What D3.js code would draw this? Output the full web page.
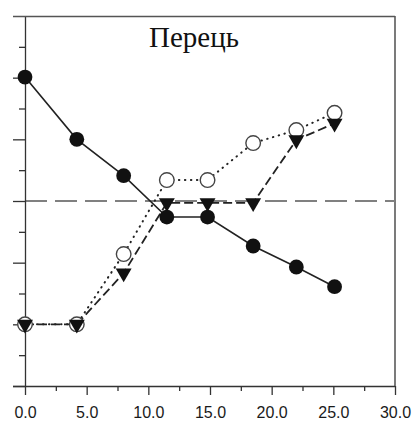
<!DOCTYPE html>
<html>
<head>
<meta charset="utf-8">
<script src="https://cdn.jsdelivr.net/npm/d3@7"></script>
<style>
  body { margin: 0; background: #fff; }
</style>
</head>
<body>
<div id="chart"></div>
<script>
// days of storage (x) and the three series (y)
let days      = [0, 4.2, 8, 11.5, 14.8, 18.5, 22, 25.1];
let filled    = [2.01, 1.0, 0.41, -0.26, -0.26, -0.73, -1.07, -1.39];
let hollow    = [-2.0, -2.0, -0.86, 0.34, 0.34, 0.94, 1.15, 1.43];
let triangles = [-2.0, -2.0, -1.17, -0.03, -0.03, -0.03, 0.99, 1.26];
let xMajor = [0, 5, 10, 15, 20, 25, 30];
let xMinor = [2.5, 7.5, 12.5, 17.5, 22.5, 27.5];
let yMajor = [-3, -2, -1, 0, 1, 2, 3];
let yMinor = [-2.5, -1.5, -0.5, 0.5, 1.5, 2.5];
let title = "Перець";

let larg = 416;
let alt = 423;

let svg = d3.select("#chart")
            .append("svg")
            .attr("width", larg)
            .attr("height", alt);

let x = d3.scaleLinear().domain([0, 30]).range([25, 395]);
let y = d3.scaleLinear().domain([-3, 3]).range([386, 16]);

// frame: right side
svg.append("line")
   .attr("x1", x(30)).attr("x2", x(30))
   .attr("y1", y(3)).attr("y2", y(-3))
   .attr("stroke", "#333").attr("stroke-width", 1.3);

// zero reference line
svg.append("line")
   .attr("x1", x(0)).attr("x2", x(30))
   .attr("y1", y(0)).attr("y2", y(0))
   .attr("stroke", "#808080")
   .attr("stroke-width", 1.8)
   .attr("stroke-dasharray", "22,8");

// minor ticks
svg.append("g")
   .attr("transform", `translate(0,${y(-3)})`)
   .call(d3.axisBottom(x).tickValues(xMinor).tickSize(5).tickFormat(""))
   .call(g => g.select(".domain").remove())
   .call(g => g.selectAll("line").attr("stroke", "#333").attr("stroke-width", 1.3));

svg.append("g")
   .attr("transform", `translate(${x(0)},0)`)
   .call(d3.axisLeft(y).tickValues(yMinor).tickSize(6).tickFormat(""))
   .call(g => g.select(".domain").remove())
   .call(g => g.selectAll("line").attr("stroke", "#333").attr("stroke-width", 1.3));

// major ticks + labels
let xAxis = svg.append("g")
   .attr("transform", `translate(0,${y(-3)})`)
   .call(d3.axisBottom(x).tickValues(xMajor).tickSize(9).tickSizeOuter(0)
           .tickPadding(12).tickFormat(d3.format(".1f")));
xAxis.select(".domain").attr("stroke", "#333").attr("stroke-width", 1.3)
     .attr("d", `M${x(0) - 12},0.5H${x(30)}`);
xAxis.selectAll("line").attr("stroke", "#333").attr("stroke-width", 1.3);
xAxis.selectAll("text")
     .style("font", "16px 'Liberation Sans', Arial, sans-serif")
     .attr("fill", "#1a1a1a");

let yAxis = svg.append("g")
   .attr("transform", `translate(${x(0)},0)`)
   .call(d3.axisLeft(y).tickValues(yMajor).tickSize(12).tickSizeOuter(0).tickFormat(""));
yAxis.select(".domain").attr("stroke", "#333").attr("stroke-width", 1.3);
yAxis.selectAll("line").attr("stroke", "#333").attr("stroke-width", 1.3);
yAxis.selectAll(".tick").filter(d => d === 3).select("line")
     .attr("x2", x(30) - x(0)).attr("x1", -12).attr("stroke", "#555");

let line = (vals) => d3.line()
    .x((d, i) => x(days[i]))
    .y(d => y(d))(vals);

// filled circles, solid line
svg.append("path")
   .attr("d", line(filled))
   .attr("fill", "none").attr("stroke", "#222").attr("stroke-width", 1.6);

// hollow circles, dotted line
svg.append("path")
   .attr("d", line(hollow))
   .attr("fill", "none").attr("stroke", "#222").attr("stroke-width", 2)
   .attr("stroke-linecap", "round")
   .attr("stroke-dasharray", "0.5,5.5");

// triangles, dashed line
svg.append("path")
   .attr("d", line(triangles))
   .attr("fill", "none").attr("stroke", "#222").attr("stroke-width", 1.8)
   .attr("stroke-dasharray", "9,4");

svg.selectAll(".filledpt")
   .data(filled)
   .enter()
   .append("circle")
   .attr("class", "filledpt")
   .attr("cx", (d, i) => x(days[i]))
   .attr("cy", d => y(d))
   .attr("r", 7.4)
   .attr("fill", "#111");

svg.selectAll(".hollowpt")
   .data(hollow)
   .enter()
   .append("circle")
   .attr("class", "hollowpt")
   .attr("cx", (d, i) => x(days[i]))
   .attr("cy", d => y(d))
   .attr("r", 7.3)
   .attr("fill", "#fff")
   .attr("stroke", "#444")
   .attr("stroke-width", 1.4);

let tri = d3.symbol().type(d3.symbolTriangle).size(110);
svg.selectAll(".tript")
   .data(triangles)
   .enter()
   .append("path")
   .attr("class", "tript")
   .attr("d", tri)
   .attr("transform", (d, i) => `translate(${x(days[i])},${y(d)}) rotate(180)`)
   .attr("fill", "#111");

svg.append("text")
   .attr("x", 194)
   .attr("y", 47)
   .attr("text-anchor", "middle")
   .style("font", "29px 'Liberation Serif', 'Times New Roman', serif")
   .attr("fill", "#111")
   .text(title);
</script>
</body>
</html>
